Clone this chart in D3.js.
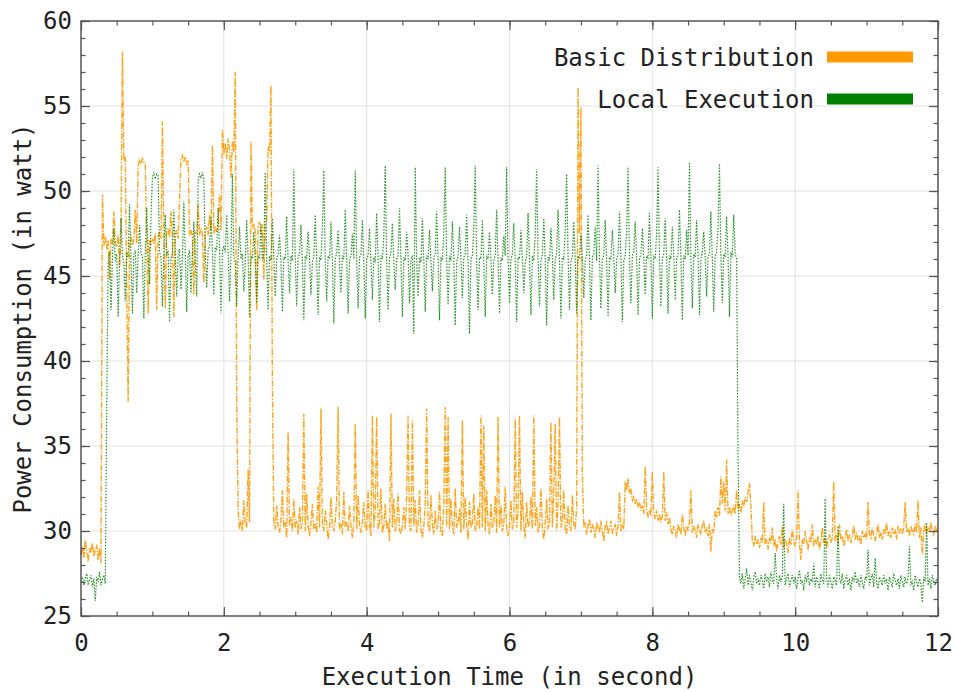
<!DOCTYPE html>
<html>
<head>
<meta charset="utf-8">
<script src="https://cdn.jsdelivr.net/npm/d3@7"></script>
<style>
  html, body { margin: 0; padding: 0; background: #fff; }
  svg { display: block; }
  text { font-family: "DejaVu Sans Mono", monospace; fill: #222; }
</style>
</head>
<body>
<svg id="chart" width="956" height="692"></svg>
<script>
// ---- data (sampled every 0.02 s from t = 0 to t = 12) ----
const sampleStep = 0.02;
const seriesNames = ["Basic Distribution", "Local Execution"];
const seriesColors = ["#ff9900", "#008000"];
const xTickValues = [0, 2, 4, 6, 8, 10, 12];
const yTickValues = [25, 30, 35, 40, 45, 50, 55, 60];
const xLabel = "Execution Time (in second)";
const yLabel = "Power Consumption (in watt)";

const basicDistribution = [
28.6,29.1,28.4,29.5,28.8,28.2,29.0,28.7,29.3,28.5,28.9,29.2,28.3,29.0,28.1,49.8,46.8,47.3,46.6,47.1,44.8,47.2,46.9,48.8,47.0,
46.7,47.4,45.5,47.1,58.2,51.8,52.0,44.3,37.6,47.0,47.3,46.8,47.2,48.9,46.9,51.5,51.8,51.6,51.9,51.7,51.5,47.0,42.8,47.1,46.8,
47.2,46.9,47.5,43.0,47.3,47.6,47.2,54.1,47.4,43.1,47.6,47.8,47.3,48.8,47.5,42.6,47.4,47.7,47.2,49.5,51.9,52.1,51.7,52.0,51.6,
51.8,47.4,47.7,47.3,43.9,47.6,47.5,49.2,47.4,47.8,47.5,44.6,47.6,47.9,47.4,48.6,47.7,52.7,47.5,47.9,47.6,48.2,49.8,47.7,53.6,
52.2,52.8,51.9,53.1,52.4,50.8,52.9,52.3,57.0,37.8,31.2,30.1,30.6,30.0,31.8,30.4,30.2,33.6,30.5,52.9,47.8,48.1,47.6,43.0,47.9,
48.2,47.5,48.0,44.8,47.9,48.3,52.6,52.3,56.2,38.7,30.4,30.1,31.5,30.3,29.9,30.6,32.4,30.2,30.5,29.6,35.8,30.3,30.8,30.0,31.9,
30.2,30.6,29.8,31.4,30.1,30.4,36.9,30.0,32.2,30.3,29.7,30.5,31.6,30.1,30.4,29.9,32.6,30.2,37.2,30.3,30.0,31.2,30.4,29.5,30.2,
32.0,30.3,30.0,30.6,31.8,37.3,30.1,30.4,29.8,32.3,30.2,30.5,30.0,31.5,30.3,29.6,30.4,36.3,30.1,32.1,30.3,29.9,30.5,31.7,30.2,
30.0,32.4,30.3,29.7,36.8,30.2,31.3,36.7,30.1,30.4,32.5,29.9,30.3,31.6,30.1,30.5,29.4,36.9,30.2,31.9,30.0,30.4,32.2,30.1,29.8,
30.3,31.4,30.1,32.0,36.8,30.2,30.0,36.5,30.3,31.8,29.9,30.4,32.4,30.1,29.6,30.3,31.5,37.2,30.2,30.0,32.1,30.4,29.8,31.2,30.1,
30.3,32.3,30.0,29.7,31.6,37.3,30.2,36.7,30.1,31.9,30.3,29.8,32.5,30.2,30.4,31.3,29.9,36.5,30.1,32.0,30.3,29.5,31.7,30.2,30.4,
32.2,30.0,30.3,31.4,30.1,36.8,30.2,36.2,30.0,32.4,30.3,29.8,31.6,30.2,30.5,32.1,29.9,36.7,30.2,31.5,30.0,30.4,32.6,30.1,29.7,
30.3,31.8,30.1,30.4,36.6,30.2,31.2,36.8,30.0,32.3,30.3,29.6,31.7,30.2,30.5,32.0,30.1,36.8,30.3,31.4,29.9,30.4,32.5,30.2,29.5,
30.3,31.9,30.1,30.4,36.4,30.2,32.2,36.3,30.0,31.6,36.7,30.2,30.5,32.4,30.1,29.8,31.5,30.3,30.0,32.1,30.4,30.1,31.3,56.1,47.5,
54.9,33.4,30.2,30.5,29.8,30.3,30.7,29.9,30.4,30.1,29.6,30.5,30.2,29.9,30.6,30.0,29.4,30.3,30.5,29.8,30.2,30.6,29.9,30.1,30.4,
29.7,30.3,32.3,30.0,30.4,30.1,32.9,32.4,33.1,32.2,32.5,31.8,32.0,31.6,31.9,31.4,31.7,31.2,31.5,31.0,33.8,31.3,30.8,31.2,30.9,
33.5,31.0,30.7,31.2,30.6,31.0,30.5,30.9,33.5,30.6,31.1,30.4,30.8,30.1,29.8,30.3,30.0,29.6,30.4,30.1,29.8,31.0,30.2,29.7,30.3,
30.0,30.5,32.4,29.9,30.3,30.0,29.6,30.4,30.1,29.8,30.3,30.6,29.9,30.2,29.7,30.4,28.8,30.1,29.9,31.2,30.8,31.4,30.9,33.2,31.6,
32.9,31.2,34.2,31.0,31.4,30.9,31.2,31.5,31.0,32.4,31.3,31.6,31.1,31.8,31.4,32.0,31.7,32.3,32.8,31.5,29.4,29.1,29.7,29.2,29.5,
29.0,29.6,29.3,31.7,29.2,29.5,28.9,29.6,29.3,30.2,29.1,29.5,28.8,29.4,29.7,29.2,30.3,29.0,29.5,29.3,28.7,29.6,29.2,30.1,29.4,
29.1,29.6,32.4,29.3,28.3,29.5,29.2,30.0,29.4,28.9,29.6,29.3,30.4,29.1,29.5,29.2,29.7,28.9,29.4,30.2,29.3,29.6,29.0,29.5,29.8,
29.3,29.6,32.9,29.4,29.8,29.2,30.4,29.5,29.7,29.1,29.6,30.1,29.4,29.8,29.3,29.7,30.3,29.5,29.9,29.4,29.7,29.2,30.0,29.6,29.8,
29.5,31.7,29.8,29.6,30.2,29.7,29.4,29.9,30.4,29.6,29.9,29.5,30.1,29.8,30.5,29.7,30.0,29.6,30.2,29.8,30.0,29.5,30.3,29.9,30.1,
29.8,30.2,31.7,29.9,30.1,29.7,30.3,30.0,29.8,30.4,29.9,31.8,29.6,30.2,28.6,30.0,30.4,29.8,30.2,29.9,30.5,30.0,29.8,30.3,30.0,
30.1
];

const localExecution = [
27.0,27.3,26.8,27.2,27.5,26.9,27.1,27.4,26.7,27.2,25.9,27.3,27.0,27.6,26.8,27.2,27.4,26.9,37.0,45.8,46.4,43.0,46.1,47.8,45.9,
46.3,42.6,46.0,48.4,46.2,45.8,43.5,46.4,46.1,49.2,46.0,42.8,46.3,46.5,44.0,46.2,48.0,46.4,46.1,42.5,46.3,49.0,46.2,44.5,48.5,
50.8,51.1,50.7,51.0,50.9,46.4,46.1,43.2,46.3,48.6,46.2,46.5,42.3,46.0,46.4,48.9,46.2,43.8,46.3,46.6,44.2,46.1,49.4,46.3,42.9,
46.2,46.5,44.0,46.3,48.2,46.0,43.8,50.6,51.0,50.8,51.1,50.7,46.6,44.3,46.5,46.8,48.5,46.4,43.9,46.7,46.5,49.0,46.6,42.8,46.5,
46.7,46.4,48.6,46.5,43.5,46.3,51.0,46.1,45.8,43.2,46.2,47.9,46.0,46.3,44.1,45.9,48.3,46.1,42.6,46.2,46.0,47.6,45.8,43.4,46.2,
46.0,48.1,45.9,46.3,51.1,46.0,43.0,46.2,45.9,48.4,46.1,43.8,46.0,46.3,47.4,45.8,42.9,46.1,46.0,48.5,45.9,44.0,46.2,45.9,51.3,
46.0,43.2,46.1,46.3,48.0,45.9,42.4,46.2,46.0,47.6,46.1,43.9,45.8,46.2,48.6,46.0,42.7,46.1,45.9,47.9,51.2,46.0,43.5,46.2,46.0,
48.2,45.9,42.2,46.1,46.3,47.7,45.8,44.0,46.2,46.0,48.9,46.1,42.8,45.9,46.2,47.5,46.0,51.2,45.9,43.1,46.1,46.3,48.3,45.8,42.5,
46.0,46.2,47.8,45.9,43.6,46.1,45.8,48.7,46.0,42.3,46.2,46.0,47.4,51.5,45.9,43.0,46.1,46.3,48.1,45.8,44.2,46.0,46.2,49.0,45.9,
42.6,46.1,45.9,47.6,46.2,43.4,46.0,46.2,41.6,51.4,46.0,43.8,46.1,45.8,48.4,46.0,42.9,46.2,46.0,47.7,45.9,44.1,46.1,46.3,48.8,
46.0,42.4,46.1,45.9,47.5,51.4,46.0,43.3,46.2,45.9,48.2,46.1,42.1,45.8,46.2,47.9,46.0,43.7,46.1,46.3,48.6,45.9,41.6,46.0,46.2,
47.8,51.5,45.9,43.0,46.1,46.0,48.3,45.8,42.6,46.2,46.0,47.6,46.1,43.9,45.9,46.2,48.9,46.0,42.8,46.1,45.9,47.4,46.2,51.4,45.9,
43.4,46.0,46.3,48.1,45.9,42.3,46.1,46.0,47.7,46.2,44.0,45.8,46.1,48.7,46.0,42.7,46.2,45.9,47.5,51.3,46.1,43.2,45.9,46.2,48.4,
46.0,42.1,46.1,45.9,47.8,46.2,43.6,46.0,46.3,48.9,45.9,42.5,46.1,46.0,47.6,51.0,46.2,43.0,45.9,46.1,48.2,46.0,42.8,46.2,46.0,
47.5,46.1,43.7,45.9,46.2,48.6,46.0,42.4,46.1,46.3,47.9,45.9,51.5,46.1,43.1,46.0,46.2,48.3,45.9,42.6,46.1,46.0,47.7,46.2,44.0,
46.0,46.3,48.8,46.1,42.3,45.9,46.2,47.6,51.4,46.0,43.4,46.2,46.4,48.2,46.1,42.7,46.0,46.3,47.8,46.1,43.9,46.2,46.0,48.7,46.1,
42.5,46.2,46.0,47.5,51.4,46.1,43.2,46.0,46.3,48.4,46.1,42.8,46.2,46.0,47.9,46.2,43.6,46.0,46.3,48.9,46.1,42.4,46.2,46.0,47.7,
46.2,51.7,46.0,43.1,46.3,46.1,48.3,46.2,42.7,46.0,46.4,47.6,46.2,43.8,46.1,46.3,48.8,46.0,42.9,46.2,46.4,47.9,51.6,46.1,43.4,
46.3,46.1,48.5,46.2,42.6,46.4,46.1,48.6,46.3,46.0,34.6,27.3,26.9,27.5,26.6,27.2,27.8,26.8,27.4,27.0,26.5,27.3,27.6,26.9,27.2,
26.8,27.4,27.1,26.6,27.5,27.0,27.3,26.7,27.6,27.1,26.9,28.7,27.2,26.6,27.4,27.0,27.3,31.6,26.8,27.2,27.5,26.7,27.1,27.4,26.9,
27.3,26.6,27.2,27.7,26.9,27.1,26.5,27.4,27.0,27.6,26.8,27.2,27.0,28.1,26.7,27.3,27.0,26.6,27.5,27.1,26.9,31.9,27.2,26.7,27.4,
27.0,26.6,27.3,27.1,26.8,30.3,27.2,26.9,27.5,26.6,27.1,27.4,26.8,27.2,26.5,27.3,27.0,27.6,26.9,27.2,26.7,27.4,27.0,26.6,27.3,
27.1,28.9,26.8,27.2,27.5,26.7,28.4,27.0,26.6,27.3,27.1,26.8,27.4,26.9,27.2,26.5,27.3,27.0,26.7,27.5,27.1,26.8,27.2,26.6,27.4,
27.0,26.7,27.3,26.9,27.2,29.1,26.8,27.1,26.5,27.4,27.0,26.7,27.2,26.9,25.8,27.3,27.0,30.5,26.8,27.2,26.6,27.4,27.0,26.8,27.2,
27.1
];

// ---- layout ----
const svg = d3.select("#chart");
const plot = { left: 81, right: 938, top: 21, bottom: 616 };
const x = d3.scaleLinear().domain([0, 12]).range([plot.left, plot.right]);
const y = d3.scaleLinear().domain([25, 60]).range([plot.bottom, plot.top]);
const xMinor = d3.range(0, 12.001, 0.5);
const yMinor = d3.range(25, 60.001, 1);
const fontSize = 24;

// grid
const grid = svg.append("g").attr("stroke", "#e2e2e2").attr("stroke-width", 1);
grid.selectAll("line.gx").data(xTickValues.slice(1, -1)).join("line")
  .attr("x1", d => x(d)).attr("x2", d => x(d))
  .attr("y1", plot.top).attr("y2", plot.bottom);
grid.selectAll("line.gy").data(yTickValues.slice(1, -1)).join("line")
  .attr("x1", plot.left).attr("x2", plot.right)
  .attr("y1", d => y(d)).attr("y2", d => y(d));

// series
const toPoints = arr => arr.map((v, i) => [i * sampleStep, v]);
const line = d3.line().x(d => x(d[0])).y(d => y(d[1]));
const plotG = svg.append("g");
plotG.append("path")
  .attr("d", line(toPoints(basicDistribution)))
  .attr("fill", "none").attr("stroke", seriesColors[0])
  .attr("stroke-width", 1.4).attr("stroke-opacity", 0.9)
  .attr("stroke-dasharray", "6,1.5,1.5,1.5");
plotG.append("path")
  .attr("d", line(toPoints(localExecution)))
  .attr("fill", "none").attr("stroke", seriesColors[1])
  .attr("stroke-width", 1.2).attr("stroke-opacity", 0.85)
  .attr("stroke-dasharray", "1.5,1.5");

// axes (ticks pointing inward, on all sides)
function styleAxis(g) {
  g.select(".domain").remove();
  g.selectAll(".tick line").attr("stroke", "#555").attr("stroke-width", 1.2);
  g.selectAll(".tick text").style("font-family", "'DejaVu Sans Mono', monospace")
    .style("font-size", fontSize + "px").attr("fill", "#222");
}
svg.append("g").attr("transform", `translate(0,${plot.bottom})`)
  .call(d3.axisBottom(x).tickValues(xTickValues).tickSize(-9).tickPadding(18).tickFormat(d3.format("d")))
  .call(styleAxis);
svg.append("g").attr("transform", `translate(0,${plot.bottom})`)
  .call(d3.axisBottom(x).tickValues(xMinor).tickSize(-4.5).tickFormat(""))
  .call(styleAxis);
svg.append("g").attr("transform", `translate(0,${plot.top})`)
  .call(d3.axisTop(x).tickValues(xTickValues).tickSize(-9).tickFormat(""))
  .call(styleAxis);
svg.append("g").attr("transform", `translate(0,${plot.top})`)
  .call(d3.axisTop(x).tickValues(xMinor).tickSize(-4.5).tickFormat(""))
  .call(styleAxis);
svg.append("g").attr("transform", `translate(${plot.left},0)`)
  .call(d3.axisLeft(y).tickValues(yTickValues).tickSize(-9).tickPadding(9).tickFormat(d3.format("d")))
  .call(styleAxis);
svg.append("g").attr("transform", `translate(${plot.left},0)`)
  .call(d3.axisLeft(y).tickValues(yMinor).tickSize(-4.5).tickFormat(""))
  .call(styleAxis);
svg.append("g").attr("transform", `translate(${plot.right},0)`)
  .call(d3.axisRight(y).tickValues(yTickValues).tickSize(-9).tickFormat(""))
  .call(styleAxis);
svg.append("g").attr("transform", `translate(${plot.right},0)`)
  .call(d3.axisRight(y).tickValues(yMinor).tickSize(-4.5).tickFormat(""))
  .call(styleAxis);

// frame
svg.append("rect")
  .attr("x", plot.left).attr("y", plot.top)
  .attr("width", plot.right - plot.left).attr("height", plot.bottom - plot.top)
  .attr("fill", "none").attr("stroke", "#555").attr("stroke-width", 1.5);

// axis titles
svg.append("text")
  .attr("x", (plot.left + plot.right) / 2).attr("y", 685)
  .attr("text-anchor", "middle").style("font-size", fontSize + "px")
  .text(xLabel);
svg.append("text")
  .attr("transform", `translate(31,${(plot.top + plot.bottom) / 2}) rotate(-90)`)
  .attr("text-anchor", "middle").style("font-size", fontSize + "px")
  .text(yLabel);

// legend
const legend = svg.append("g");
seriesNames.forEach((name, i) => {
  const cy = 57 + i * 42;
  legend.append("text")
    .attr("x", 814).attr("y", cy + 8.5)
    .attr("text-anchor", "end").style("font-size", fontSize + "px")
    .text(name);
  legend.append("rect")
    .attr("x", 827).attr("y", cy - 5.5).attr("width", 86).attr("height", 11)
    .attr("fill", seriesColors[i]);
});
</script>
</body>
</html>
